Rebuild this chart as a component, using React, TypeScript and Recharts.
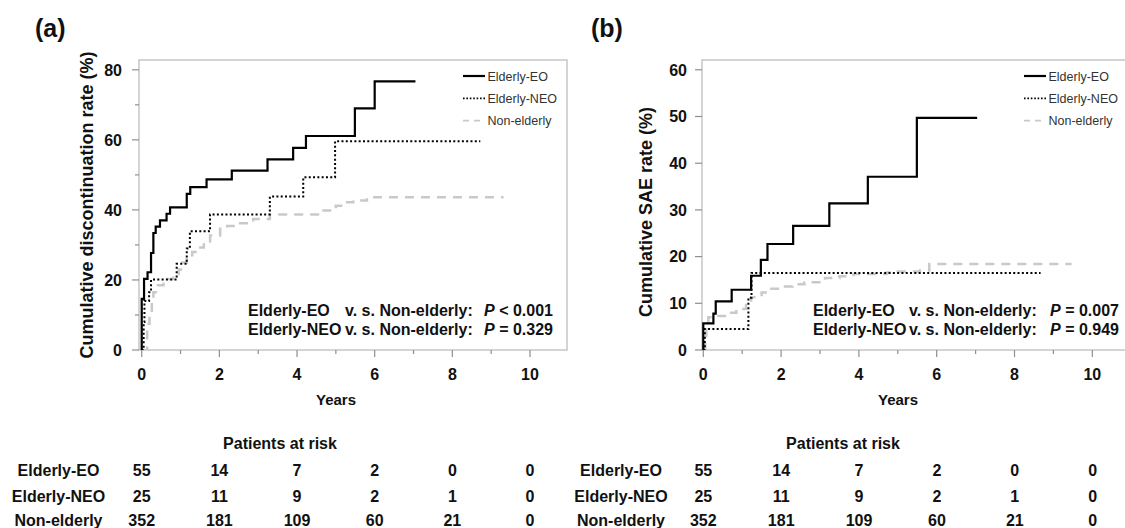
import React from 'react';
import { LineChart, Line, XAxis, YAxis, ReferenceArea } from 'recharts';

const FONT = '"Liberation Sans", Arial, Helvetica, sans-serif';
const TICK = '#8f8f8f';
const BOX = '#c6c6c6';
const INK = '#111';

const groups = ['Elderly-EO', 'Elderly-NEO', 'Non-elderly'];
const xTicks = [0, 1, 2, 3, 4, 5, 6, 7, 8, 9, 10];
const riskYears = [0, 2, 4, 6, 8, 10];
const riskEO = [55, 14, 7, 2, 0, 0];
const riskNEO = [25, 11, 9, 2, 1, 0];
const riskNon = [352, 181, 109, 60, 21, 0];

// (a) cumulative discontinuation rate, step points [years, %]
const discEO = [
  { t: 0, v: 0 }, { t: 0, v: 14.6 }, { t: 0.06, v: 20.3 }, { t: 0.15, v: 22.2 },
  { t: 0.24, v: 27.7 }, { t: 0.3, v: 33.4 }, { t: 0.36, v: 35.2 }, { t: 0.47, v: 37.0 },
  { t: 0.64, v: 38.9 }, { t: 0.73, v: 40.7 }, { t: 1.16, v: 44.6 }, { t: 1.25, v: 46.5 },
  { t: 1.67, v: 48.7 }, { t: 2.32, v: 51.2 }, { t: 3.24, v: 54.4 }, { t: 3.9, v: 57.7 },
  { t: 4.23, v: 61.1 }, { t: 5.49, v: 69.0 }, { t: 6.0, v: 76.7 }, { t: 7.05, v: 76.7 },
];
const discNEO = [
  { t: 0, v: 0 }, { t: 0.05, v: 8.0 }, { t: 0.07, v: 14.0 }, { t: 0.19, v: 16.5 },
  { t: 0.24, v: 20.1 }, { t: 0.9, v: 24.6 }, { t: 1.16, v: 29.0 }, { t: 1.24, v: 33.9 },
  { t: 1.76, v: 38.7 }, { t: 3.3, v: 43.8 }, { t: 4.16, v: 49.3 }, { t: 4.98, v: 59.6 },
  { t: 8.72, v: 59.6 },
];
const discNon = [
  { t: 0, v: 0 }, { t: 0.14, v: 7.5 }, { t: 0.2, v: 10 }, { t: 0.26, v: 13.5 },
  { t: 0.3, v: 16.5 }, { t: 0.42, v: 18.5 }, { t: 0.56, v: 20.3 }, { t: 0.81, v: 21.7 },
  { t: 0.95, v: 23 }, { t: 1.05, v: 25 }, { t: 1.16, v: 26.5 }, { t: 1.3, v: 28 },
  { t: 1.42, v: 29.3 }, { t: 1.6, v: 31 }, { t: 1.76, v: 32.7 }, { t: 2.02, v: 34.6 },
  { t: 2.2, v: 35.4 }, { t: 2.45, v: 36.2 }, { t: 2.87, v: 37.4 }, { t: 3.3, v: 38.7 },
  { t: 4.6, v: 39.8 }, { t: 5.0, v: 41.2 }, { t: 5.2, v: 42.2 }, { t: 5.45, v: 42.7 },
  { t: 5.8, v: 43.6 }, { t: 9.32, v: 43.6 },
];

// (b) cumulative SAE rate
const saeEO = [
  { t: 0, v: 0 }, { t: 0, v: 5.7 }, { t: 0.26, v: 7.8 }, { t: 0.32, v: 10.4 },
  { t: 0.73, v: 12.9 }, { t: 1.23, v: 15.9 }, { t: 1.48, v: 19.3 }, { t: 1.65, v: 22.7 },
  { t: 2.31, v: 26.6 }, { t: 3.24, v: 31.4 }, { t: 4.23, v: 37.1 }, { t: 5.49, v: 49.7 },
  { t: 7.04, v: 49.7 },
];
const saeNEO = [
  { t: 0, v: 0 }, { t: 0.04, v: 4.5 }, { t: 1.16, v: 11.2 }, { t: 1.24, v: 16.5 },
  { t: 8.67, v: 16.5 },
];
const saeNon = [
  { t: 0, v: 0 }, { t: 0.05, v: 3 }, { t: 0.08, v: 6 }, { t: 0.13, v: 7 },
  { t: 0.35, v: 7.3 }, { t: 0.6, v: 8 }, { t: 0.85, v: 8.8 }, { t: 1.1, v: 10 },
  { t: 1.23, v: 11.3 }, { t: 1.5, v: 12.3 }, { t: 1.7, v: 13.1 }, { t: 2.0, v: 13.6 },
  { t: 2.3, v: 14.1 }, { t: 2.6, v: 14.5 }, { t: 3.13, v: 15.4 }, { t: 3.5, v: 15.8 },
  { t: 3.86, v: 16.3 }, { t: 4.71, v: 16.6 }, { t: 5.0, v: 16.8 }, { t: 5.57, v: 17.0 },
  { t: 5.81, v: 18.4 }, { t: 9.47, v: 18.4 },
];

const styles = [
  { stroke: '#000', width: 2.2, dash: undefined as string | undefined, legendDash: undefined as string | undefined },
  { stroke: '#000', width: 2, dash: '2 2.3', legendDash: '1.6 1.8' },
  { stroke: '#c9c9c9', width: 2.5, dash: '9 7', legendDash: '6 5' },
];

const makeXTick = () => (props: any) => {
  const { x, y, payload } = props;
  const v = payload.value;
  const major = v % 2 === 0;
  return (
    <g>
      <line x1={x} x2={x} y1={y} y2={y + (major ? 7 : 4)} stroke={TICK} strokeWidth={1.2} />
      {major && (
        <text x={x} y={y + 30} textAnchor="middle" fontSize={16} fontWeight="bold" fill={INK} fontFamily={FONT}>
          {v}
        </text>
      )}
    </g>
  );
};

const makeYTick = (majorEvery: number, gap: number) => (props: any) => {
  const { x, y, payload } = props;
  const v = payload.value;
  const major = v % majorEvery === 0;
  return (
    <g>
      <line x1={x - (major ? 7 : 4)} x2={x} y1={y} y2={y} stroke={TICK} strokeWidth={1.2} />
      {major && (
        <text x={x - gap} y={y + 5.8} textAnchor="end" fontSize={16} fontWeight="bold" fill={INK} fontFamily={FONT}>
          {v}
        </text>
      )}
    </g>
  );
};

interface PanelProps {
  left: number;
  width: number;
  yAxisWidth: number;
  xDomain: [number, number];
  yMax: number;
  yTicks: number[];
  yMajorEvery: number;
  yGap: number;
  series: { t: number; v: number }[][];
}

function KMPanel({ left, width, yAxisWidth, xDomain, yMax, yTicks, yMajorEvery, yGap, series }: PanelProps) {
  const order = [2, 1, 0];
  return (
    <div style={{ position: 'absolute', left, top: 0 }}>
      <LineChart width={width} height={400} margin={{ top: 60, right: 3, left: 0, bottom: 20 }}>
        <XAxis
          type="number"
          dataKey="t"
          domain={xDomain}
          ticks={xTicks}
          interval={0}
          allowDataOverflow
          axisLine={false}
          tickLine={false}
          tickSize={0}
          tickMargin={0}
          height={30}
          tick={makeXTick()}
        />
        <YAxis
          type="number"
          dataKey="v"
          domain={[0, yMax]}
          ticks={yTicks}
          interval={0}
          allowDataOverflow
          axisLine={false}
          tickLine={false}
          tickSize={0}
          tickMargin={0}
          width={yAxisWidth}
          tick={makeYTick(yMajorEvery, yGap)}
        />
        <ReferenceArea
          x1={xDomain[0]}
          x2={xDomain[1]}
          y1={0}
          y2={yMax}
          fill="none"
          stroke={BOX}
          strokeWidth={1.5}
          ifOverflow="visible"
        />
        {order.map((i) => (
          <Line
            key={groups[i]}
            data={series[i]}
            dataKey="v"
            type="stepAfter"
            stroke={styles[i].stroke}
            strokeWidth={styles[i].width}
            strokeDasharray={styles[i].dash}
            dot={false}
            activeDot={false}
            isAnimationActive={false}
          />
        ))}
      </LineChart>
    </div>
  );
}

function Legend({ x, y }: { x: number; y: number }) {
  return (
    <g>
      {groups.map((g, i) => {
        const cy = y + i * 22.3;
        return (
          <g key={g}>
            <line
              x1={x}
              x2={x + 22}
              y1={cy}
              y2={cy}
              stroke={styles[i].stroke}
              strokeWidth={i === 0 ? 2.2 : 1.8}
              strokeDasharray={styles[i].legendDash}
            />
            <text x={x + 24.5} y={cy + 4.6} fontSize={12.5} fill="#333" fontFamily={FONT}>
              {g}
            </text>
          </g>
        );
      })}
    </g>
  );
}

function PText({ x1, x2, xEnd, y, first, pv }: { x1: number; x2: number; xEnd: number; y: number; first: string; pv: string }) {
  return (
    <g fontSize={16} fontWeight="bold" fill={INK} fontFamily={FONT}>
      <text x={x1} y={y}>{first}</text>
      <text x={x2} y={y}>v. s. Non-elderly:</text>
      <text x={xEnd} y={y} textAnchor="end">
        <tspan fontStyle="italic">P</tspan>
        {pv}
      </text>
    </g>
  );
}

function RiskTable({ labelX, x0, pxPerYear, titleX }: { labelX: number; x0: number; pxPerYear: number; titleX: number }) {
  const rows = [riskEO, riskNEO, riskNon];
  const base = [475.7, 501.7, 526];
  return (
    <g fontSize={16} fontWeight="bold" fill={INK} fontFamily={FONT}>
      <text x={titleX} y={449} textAnchor="middle">Patients at risk</text>
      {rows.map((r, i) => (
        <g key={groups[i]}>
          <text x={labelX} y={base[i]} textAnchor="middle">{groups[i]}</text>
          {r.map((n, j) => (
            <text key={j} x={x0 + riskYears[j] * pxPerYear} y={base[i]} textAnchor="middle">
              {n}
            </text>
          ))}
        </g>
      ))}
    </g>
  );
}

export default function App() {
  return (
    <div
      style={{
        position: 'absolute',
        left: 0,
        top: 0,
        width: 1125,
        height: 528,
        overflow: 'hidden',
        background: '#fff',
        fontFamily: FONT,
      }}
    >
      <KMPanel
        left={0}
        width={570}
        yAxisWidth={139}
        xDomain={[-0.07, 10.953]}
        yMax={82.8}
        yTicks={[0, 10, 20, 30, 40, 50, 60, 70, 80]}
        yMajorEvery={20}
        yGap={17}
        series={[discEO, discNEO, discNon]}
      />
      <KMPanel
        left={560}
        width={573}
        yAxisWidth={142}
        xDomain={[-0.033, 10.969]}
        yMax={62.1}
        yTicks={[0, 10, 20, 30, 40, 50, 60]}
        yMajorEvery={10}
        yGap={15}
        series={[saeEO, saeNEO, saeNon]}
      />
      <svg width={1125} height={528} style={{ position: 'absolute', left: 0, top: 0 }}>
        <text x={35} y={36.5} fontSize={25} fontWeight="bold" fill={INK} fontFamily={FONT}>(a)</text>
        <text x={591} y={36.5} fontSize={25} fontWeight="bold" fill={INK} fontFamily={FONT}>(b)</text>
        <text
          transform="translate(93,205) rotate(-90)"
          textAnchor="middle"
          fontSize={18}
          fontWeight="bold"
          fill={INK}
          fontFamily={FONT}
        >
          Cumulative discontinuation rate (%)
        </text>
        <text
          transform="translate(652,212) rotate(-90)"
          textAnchor="middle"
          fontSize={18}
          fontWeight="bold"
          fill={INK}
          fontFamily={FONT}
        >
          Cumulative SAE rate (%)
        </text>
        <text x={336} y={405} textAnchor="middle" fontSize={15} fontWeight="bold" fill={INK} fontFamily={FONT}>Years</text>
        <text x={898} y={405} textAnchor="middle" fontSize={15} fontWeight="bold" fill={INK} fontFamily={FONT}>Years</text>

        <Legend x={463} y={76} />
        <Legend x={1024} y={76} />

        <PText x1={248} x2={345} xEnd={553} y={316.4} first="Elderly-EO" pv=" < 0.001" />
        <PText x1={248} x2={345} xEnd={553} y={335} first="Elderly-NEO" pv=" = 0.329" />
        <PText x1={813} x2={909} xEnd={1119} y={316.4} first="Elderly-EO" pv=" = 0.007" />
        <PText x1={813} x2={909} xEnd={1119} y={335} first="Elderly-NEO" pv=" = 0.949" />

        <RiskTable labelX={58.5} x0={141.7} pxPerYear={38.83} titleX={280} />
        <RiskTable labelX={621} x0={703.3} pxPerYear={38.94} titleX={843} />
      </svg>
    </div>
  );
}
